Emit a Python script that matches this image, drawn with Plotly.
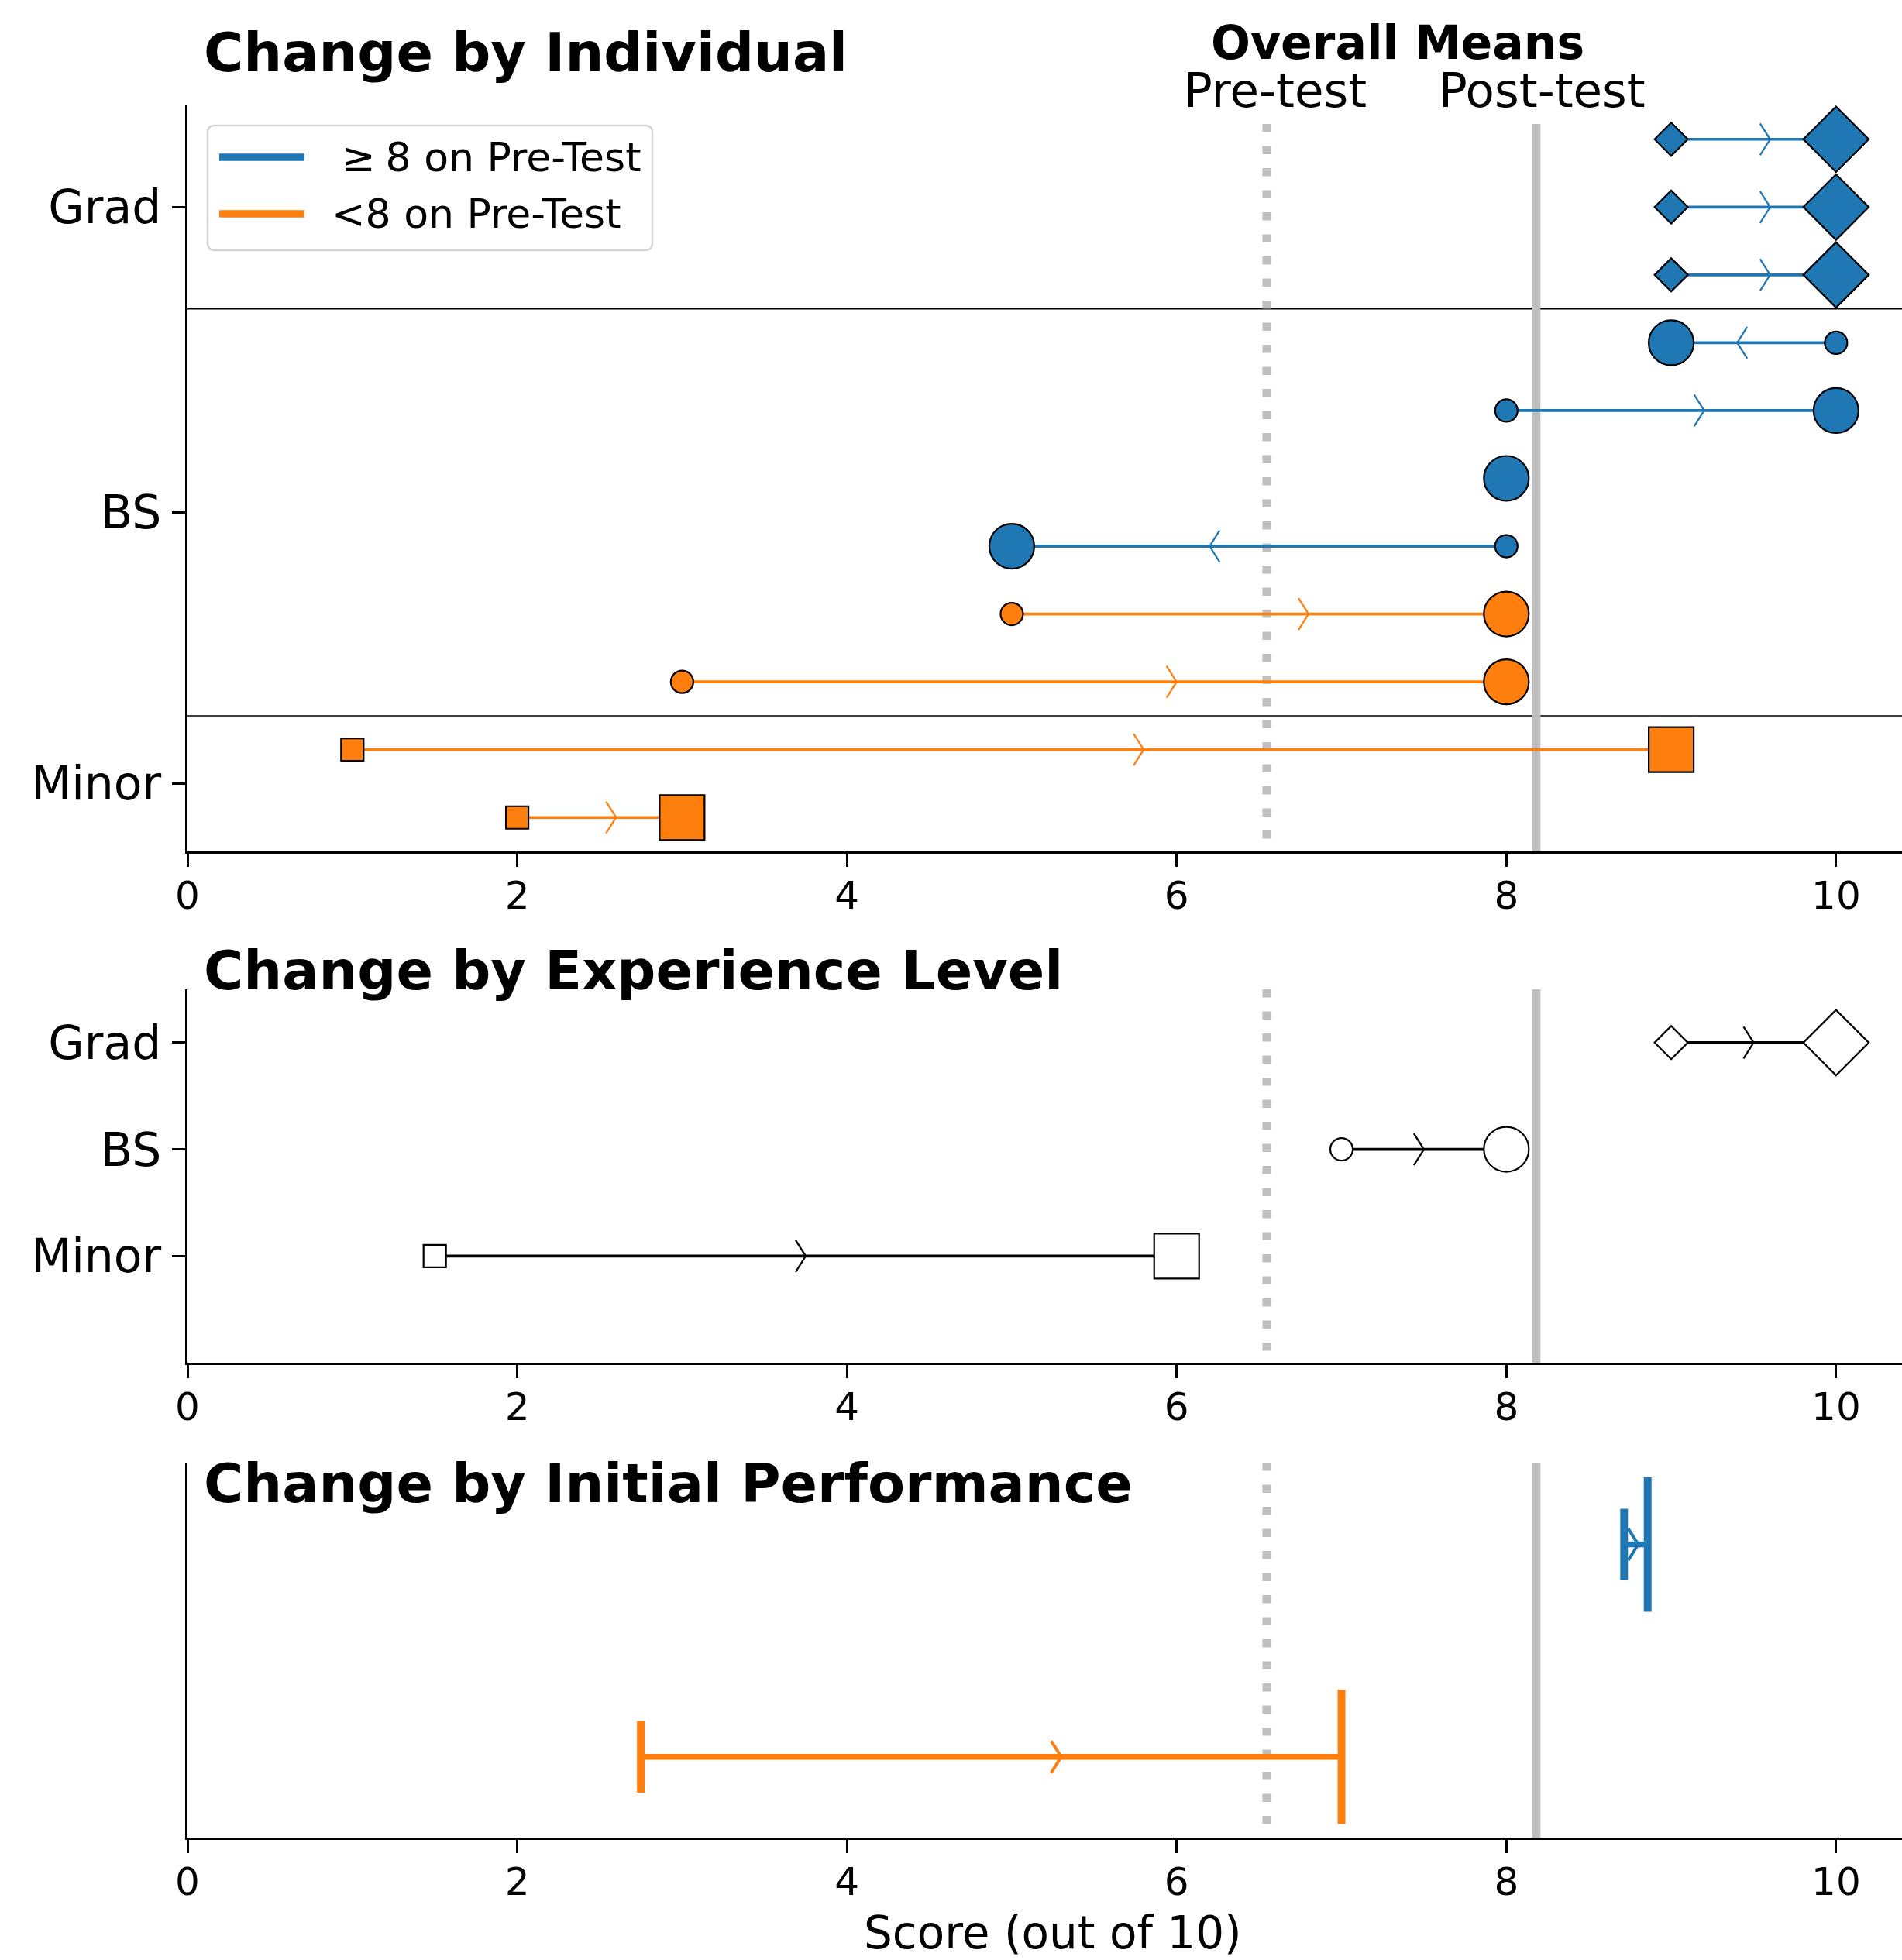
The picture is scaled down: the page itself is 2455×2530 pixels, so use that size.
import numpy as np
import plotly.graph_objects as go

# ---------------- data ----------------
levels = ["Grad", "Grad", "Grad", "BS", "BS", "BS", "BS", "BS", "BS", "Minor", "Minor"]
pre_scores = [9, 9, 9, 10, 8, 8, 8, 5, 3, 1, 2]
post_scores = [10, 10, 10, 9, 10, 8, 5, 8, 8, 9, 3]
level_names = ["Grad", "BS", "Minor"]
group_names = ["\u2005\u2265\u20058 on Pre-Test", "<8 on Pre-Test"]
pre_threshold = 8
x_tick_values = [0, 2, 4, 6, 8, 10]
x_axis_title = "Score (out of 10)"
panel_titles = ["Change by Individual", "Change by Experience Level", "Change by Initial Performance"]

# ---------------- style ----------------
W, H = 2455, 2530
ML = 242
BLUE, ORANGE = "#1f77b4", "#ff7f0e"
GRAY = "#bfbfbf"
FONT = "DejaVu Sans"
X_RANGE = [0, 10.4]
symbols = {"Grad": "diamond", "BS": "circle", "Minor": "square"}
small_size = {"diamond": 33, "circle": 29, "square": 29}
big_size = {"diamond": 65, "circle": 58, "square": 58}

top_px, mid_px, bot_px = (136, 1099), (1277, 1759), (1888, 2372)
top_rng, mid_rng, bot_rng = [-0.5, 10.5], [-1, 2.5], [-0.38, 1.385]


def dom(p):
    return [1 - p[1] / H, 1 - p[0] / H]


def px_per_unit_y(p, r):
    return (p[1] - p[0]) / (r[1] - r[0])


PX_X = (W - ML) / (X_RANGE[1] - X_RANGE[0])


def pxx(px):
    return (px - ML) / (W - ML)


def pxy(py):
    return 1 - py / H


# ---------------- derived values ----------------
pre = np.array(pre_scores, float)
post = np.array(post_scores, float)
lv = np.array(levels)
n = len(pre)
ypos = np.arange(n)[::-1].astype(float)
high = pre >= pre_threshold
row_colors = np.where(high, BLUE, ORANGE)

level_ticks = [ypos[lv == L].mean() for L in level_names]
separators = [(ypos[lv == level_names[i]].min() + ypos[lv == level_names[i + 1]].max()) / 2
              for i in range(len(level_names) - 1)]

lvl_pre = np.array([pre[lv == L].mean() for L in level_names])
lvl_post = np.array([post[lv == L].mean() for L in level_names])
lvl_y = np.arange(len(level_names))[::-1].astype(float)

grp_pre = np.array([pre[high].mean(), pre[~high].mean()])
grp_post = np.array([post[high].mean(), post[~high].mean()])
grp_y = np.array([1.0, 0.0])
grp_colors = [BLUE, ORANGE]

pre_mean = pre.mean()
post_mean = post.mean()


def segments(x0, x1, y):
    xs, ys = [], []
    for a, b, c in zip(x0, x1, y):
        xs += [a, b, None]
        ys += [c, c, None]
    return xs, ys


def chevrons(x0, x1, y, frac, dx, dy):
    xs, ys = [], []
    for a, b, c in zip(x0, x1, y):
        if b == a:
            continue
        s = 1 if b > a else -1
        t = a + frac * (b - a)
        xs += [t - s * dx, t, t - s * dx, None]
        ys += [c + dy, c, c - dy, None]
    return xs, ys


CH_DX = 13 / PX_X
CH_DY = 20.5

fig = go.Figure()

# ---------- top panel ----------
for col in [BLUE, ORANGE]:
    m = row_colors == col
    xs, ys = segments(pre[m], post[m], ypos[m])
    fig.add_trace(go.Scatter(x=xs, y=ys, mode="lines", line=dict(color=col, width=3.7),
                             xaxis="x", yaxis="y", hoverinfo="skip"))
    cx, cy = chevrons(pre[m], post[m], ypos[m], 0.6, CH_DX, CH_DY / px_per_unit_y(top_px, top_rng))
    fig.add_trace(go.Scatter(x=cx, y=cy, mode="lines", line=dict(color=col, width=2.3),
                             xaxis="x", yaxis="y", hoverinfo="skip"))
for sizes, vals in [(small_size, pre), (big_size, post)]:
    for L in level_names:
        m = lv == L
        sym = symbols[L]
        fig.add_trace(go.Scatter(x=vals[m], y=ypos[m], mode="markers",
                                 marker=dict(symbol=sym, size=sizes[sym], color=list(row_colors[m]),
                                             line=dict(color="black", width=2.2)),
                                 xaxis="x", yaxis="y"))

# ---------- middle panel ----------
xs, ys = segments(lvl_pre, lvl_post, lvl_y)
fig.add_trace(go.Scatter(x=xs, y=ys, mode="lines", line=dict(color="black", width=3.7),
                         xaxis="x2", yaxis="y2", hoverinfo="skip"))
cx, cy = chevrons(lvl_pre, lvl_post, lvl_y, 0.5, CH_DX, CH_DY / px_per_unit_y(mid_px, mid_rng))
fig.add_trace(go.Scatter(x=cx, y=cy, mode="lines", line=dict(color="black", width=2.3),
                         xaxis="x2", yaxis="y2", hoverinfo="skip"))
for sizes, vals in [(small_size, lvl_pre), (big_size, lvl_post)]:
    for i, L in enumerate(level_names):
        sym = symbols[L]
        fig.add_trace(go.Scatter(x=[vals[i]], y=[lvl_y[i]], mode="markers",
                                 marker=dict(symbol=sym, size=sizes[sym], color="white",
                                             line=dict(color="black", width=2.2)),
                                 xaxis="x2", yaxis="y2"))

# ---------- bottom panel ----------
for i, col in enumerate(grp_colors):
    xs, ys = segments([grp_pre[i]], [grp_post[i]], [grp_y[i]])
    fig.add_trace(go.Scatter(x=xs, y=ys, mode="lines", line=dict(color=col, width=7.5),
                             xaxis="x3", yaxis="y3", hoverinfo="skip"))
    cx, cy = chevrons([grp_pre[i]], [grp_post[i]], [grp_y[i]], 0.6, CH_DX,
                      CH_DY / px_per_unit_y(bot_px, bot_rng))
    fig.add_trace(go.Scatter(x=cx, y=cy, mode="lines", line=dict(color=col, width=4),
                             xaxis="x3", yaxis="y3", hoverinfo="skip"))
    for val, sz in [(grp_pre[i], 66), (grp_post[i], 124)]:
        fig.add_trace(go.Scatter(x=[val], y=[grp_y[i]], mode="markers",
                                 marker=dict(symbol="line-ns", size=sz, color=col,
                                             line=dict(color=col, width=10)),
                                 xaxis="x3", yaxis="y3"))

# ---------- axes ----------
xcommon = dict(range=X_RANGE, tickvals=x_tick_values, ticks="outside", ticklen=17, tickwidth=3,
               tickcolor="black", showline=True, linewidth=2.5, linecolor="black",
               showgrid=False, zeroline=False, tickfont=dict(size=50, color="black", family=FONT),
               domain=[0, 1], fixedrange=True, ticklabelstandoff=-6)
ycommon = dict(ticks="outside", ticklen=17, tickwidth=3, tickcolor="black", showline=True,
               linewidth=2.5, linecolor="black", showgrid=False, zeroline=False,
               tickfont=dict(size=60, color="black", family=FONT), fixedrange=True,
               ticklabelstandoff=2)

fig.update_layout(
    width=W, height=H, autosize=False,
    margin=dict(l=ML, r=0, t=0, b=0),
    paper_bgcolor="white", plot_bgcolor="white", showlegend=False,
    font=dict(family=FONT, color="black"),
    xaxis=dict(xcommon, anchor="y"),
    xaxis2=dict(xcommon, anchor="y2"),
    xaxis3=dict(xcommon, anchor="y3"),
    yaxis=dict(ycommon, domain=dom(top_px), range=top_rng, tickvals=level_ticks,
               ticktext=level_names, anchor="x"),
    yaxis2=dict(ycommon, domain=dom(mid_px), range=mid_rng, tickvals=list(lvl_y),
                ticktext=level_names, anchor="x2"),
    yaxis3=dict(ycommon, domain=dom(bot_px), range=bot_rng, ticks="", showticklabels=False,
                anchor="x3"),
)

# ---------- shapes ----------
shapes = []
for s in separators:
    shapes.append(dict(type="line", xref="x domain", yref="y", x0=0, x1=1, y0=s, y1=s,
                       line=dict(color="black", width=1.5), layer="below"))
for xa, ya, top in [("x", "y", 0.975), ("x2", "y2", 1.0), ("x3", "y3", 1.0)]:
    shapes.append(dict(type="line", xref=xa, yref=ya + " domain", x0=pre_mean, x1=pre_mean,
                       y0=top, y1=0, line=dict(color=GRAY, width=10.7, dash="10.5px,18px"),
                       layer="below"))
    shapes.append(dict(type="line", xref=xa, yref=ya + " domain", x0=post_mean, x1=post_mean,
                       y0=top, y1=0, line=dict(color=GRAY, width=10.7), layer="below"))

# legend box (rounded)
lx0, lx1, ly0, ly1 = pxx(268), pxx(842), pxy(323), pxy(162)
rx, ry = 9 / (W - ML), 9 / H
path = (f"M{lx0 + rx},{ly1} L{lx1 - rx},{ly1} Q{lx1},{ly1} {lx1},{ly1 - ry} "
        f"L{lx1},{ly0 + ry} Q{lx1},{ly0} {lx1 - rx},{ly0} L{lx0 + rx},{ly0} "
        f"Q{lx0},{ly0} {lx0},{ly0 + ry} L{lx0},{ly1 - ry} Q{lx0},{ly1} {lx0 + rx},{ly1} Z")
shapes.append(dict(type="path", xref="paper", yref="paper", path=path,
                   line=dict(color="#d4d4d4", width=2.5), fillcolor="white", layer="above"))
legend_rows = [203, 276]
for col, py in zip(grp_colors, legend_rows):
    shapes.append(dict(type="line", xref="paper", yref="paper", x0=pxx(283), x1=pxx(393),
                       y0=pxy(py), y1=pxy(py), line=dict(color=col, width=9.5), layer="above"))
fig.update_layout(shapes=shapes)

# ---------- annotations ----------
ann = []
for t, py in zip(panel_titles, [68, 1253, 1915]):
    ann.append(dict(text=f"<b>{t}</b>", xref="paper", yref="paper", x=pxx(261), y=pxy(py),
                    xanchor="left", yanchor="middle", showarrow=False,
                    font=dict(size=70, color="black", family=FONT)))
ann.append(dict(text="<b>Overall Means</b>", xref="x", yref="paper", x=(pre_mean + post_mean) / 2,
                xshift=-5, y=pxy(55), xanchor="center", yanchor="middle", showarrow=False,
                font=dict(size=60, color="black", family=FONT)))
ann.append(dict(text="Pre-test", xref="x", yref="paper", x=pre_mean, xshift=11, y=pxy(117),
                xanchor="center", yanchor="middle", showarrow=False,
                font=dict(size=61, color="black", family=FONT)))
ann.append(dict(text="Post-test", xref="x", yref="paper", x=post_mean, xshift=7, y=pxy(117),
                xanchor="center", yanchor="middle", showarrow=False,
                font=dict(size=61, color="black", family=FONT)))
for g, py in zip(group_names, legend_rows):
    ann.append(dict(text=g, xref="paper", yref="paper", x=pxx(426), y=pxy(py),
                    xanchor="left", yanchor="middle", showarrow=False,
                    font=dict(size=52, color="black", family=FONT)))
ann.append(dict(text=x_axis_title, xref="paper", yref="paper", x=pxx(1359), y=pxy(2495),
                xanchor="center", yanchor="middle", showarrow=False,
                font=dict(size=58, color="black", family=FONT)))
fig.update_layout(annotations=ann)

fig.write_html("out.html", config={"displayModeBar": False},
               post_script="document.body.style.margin='0';document.body.style.padding='0';")
